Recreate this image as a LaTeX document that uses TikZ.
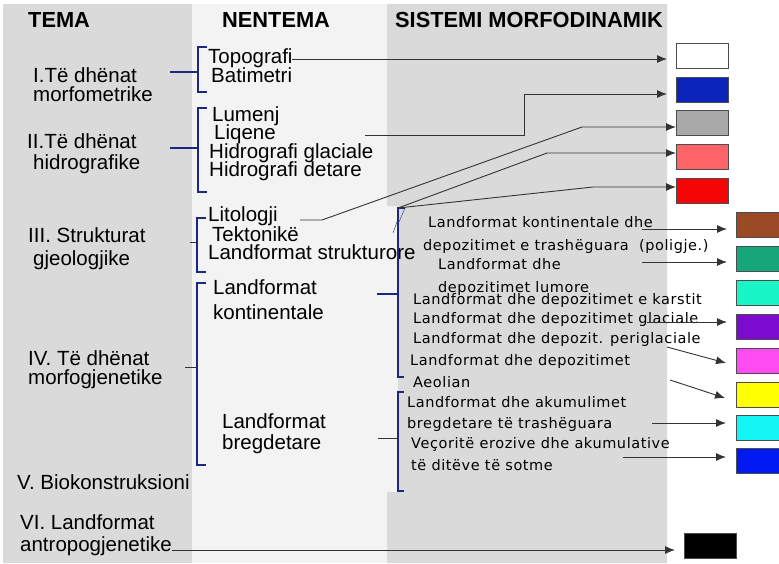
\documentclass[tikz,border=0pt]{standalone}
\usepackage{fontspec}
\setmainfont{Liberation Sans}
\newfontfamily\sisfont[LetterSpace=4]{DejaVu Sans}
\usetikzlibrary{arrows.meta}

\definecolor{temagray}{HTML}{DADADA}
\definecolor{nenlight}{HTML}{F3F3F3}
\definecolor{brnavy}{HTML}{1E2780}

\begin{document}
\begin{tikzpicture}[x=1pt,y=-1pt,
  ttl/.style={font=\bfseries\fontsize{21.8}{22}\selectfont,inner sep=0,anchor=base west},
  tema/.style={font=\fontsize{20.5}{21}\selectfont,inner sep=0,anchor=base west},
  sis/.style={font=\sisfont\fontsize{14.5}{14.5}\selectfont,inner sep=0,anchor=base west},
  kuti/.style={draw=black!70,line width=0.8pt,inner sep=0,minimum width=52pt,minimum height=25pt,anchor=north west},
  shig/.style={draw=black!80,line width=0.9pt,-{Latex[length=10pt,width=8pt]}},
  kllap/.style={draw=brnavy,line width=1.8pt}]
  \useasboundingbox (0,0) rectangle (779,563); \clip (0,0) rectangle (779,563);
  % columns
  \fill[temagray] (3,4) rectangle (192,563);
  \fill[nenlight] (192,4) rectangle (398,563);
  \fill[temagray] (387,4) -- (667,4) -- (667,563) -- (387,563) -- (387,492) -- (398,492) -- (398,206) -- (387,206) -- cycle;
  \node[ttl] (tema) at (28,27) {TEMA};
  \node[ttl] (nentema) at (222,27) {NENTEMA};
  \node[ttl] (sistemi) at (395,27) {SISTEMI MORFODINAMIK};
  % tema
  \node[tema] (t1a) at (33,82) {I.Të dhënat}; \node[tema] (t1b) at (33,101) {morfometrike};
  \node[tema] (t2a) at (27,148) {II.Të dhënat}; \node[tema] (t2b) at (33,169) {hidrografike};
  \node[tema] (t3a) at (28,242) {III. Strukturat}; \node[tema] (t3b) at (33,265) {gjeologjike};
  \node[tema] (t4a) at (28,365) {IV. Të dhënat}; \node[tema] (t4b) at (28,384) {morfogjenetike};
  \node[tema] (t5) at (17,489) {V. Biokonstruksioni};
  \node[tema] (t6a) at (20,529) {VI. Landformat}; \node[tema] (t6b) at (20,551) {antropogjenetike};
  % nentema
  \node[tema] (topo) at (208,63) {Topografi}; \node[tema] (bati) at (211,82) {Batimetri};
  \node[tema] (lum) at (212,121) {Lumenj}; \node[tema] (liq) at (214,139) {Liqene};
  \node[tema] (hgl) at (209,158) {Hidrografi glaciale}; \node[tema] (hdt) at (209,176) {Hidrografi detare};
  \node[tema] (lit) at (208,221) {Litologji}; \node[tema] (tek) at (212,241) {Tektonikë};
  \node[tema] (lst) at (208,259) {Landformat strukturore};
  \node[tema] (lk1) at (213,294) {Landformat}; \node[tema] (lk2) at (213,319) {kontinentale};
  \node[tema] (lb1) at (222,428) {Landformat}; \node[tema] (lb2) at (222,449) {bregdetare};
  % sistemi
  \node[sis] (s1a) at (428,227) {Landformat kontinentale dhe};
  \node[sis] (s1b) at (423,250) {depozitimet e trashëguara\ \ (poligje.)};
  \node[sis] (s2a) at (438,269) {Landformat dhe}; \node[sis] (s2b) at (438,292) {depozitimet lumore};
  \node[sis] (s3) at (413,304) {Landformat dhe depozitimet e karstit};
  \node[sis] (s4) at (413,323) {Landformat dhe depozitimet glaciale};
  \node[sis] (s5) at (413,343) {Landformat dhe depozit. periglaciale};
  \node[sis] (s6a) at (410,365) {Landformat dhe depozitimet}; \node[sis] (s6b) at (413,387) {Aeolian};
  \node[sis] (s7a) at (407,407) {Landformat dhe akumulimet}; \node[sis] (s7b) at (407,428) {bregdetare të trashëguara};
  \node[sis] (s8a) at (411,448) {Veçoritë erozive dhe akumulative}; \node[sis] (s8b) at (411,470) {të ditëve të sotme};
  % boxes
  \node[kuti,fill=white] (bx1) at (676,43) {}; \node[kuti,fill={rgb,255:red,10;green,35;blue,184}] (bx2) at (676,77) {};
  \node[kuti,fill={rgb,255:red,169;green,169;blue,169}] (bx3) at (676,110) {}; \node[kuti,fill={rgb,255:red,255;green,100;blue,104}] (bx4) at (676,144) {};
  \node[kuti,fill={rgb,255:red,245;green,5;blue,5}] (bx5) at (676,178) {};
  \node[kuti,fill={rgb,255:red,155;green,74;blue,38}] (bk1) at (736,212) {}; \node[kuti,fill={rgb,255:red,22;green,166;blue,122}] (bk2) at (736,246) {};
  \node[kuti,fill={rgb,255:red,26;green,245;blue,197}] (bk3) at (736,280) {}; \node[kuti,fill={rgb,255:red,122;green,11;blue,207}] (bk4) at (736,314) {};
  \node[kuti,fill={rgb,255:red,255;green,76;blue,242}] (bk5) at (736,348) {}; \node[kuti,fill={rgb,255:red,255;green,255;blue,0}] (bk6) at (736,382) {};
  \node[kuti,fill={rgb,255:red,20;green,245;blue,245}] (bk7) at (736,415) {}; \node[kuti,fill={rgb,255:red,0;green,25;blue,240}] (bk8) at (736,448) {};
  \node[kuti,fill=black] (bzi) at (684,533) {};
  % brackets
  \draw[kllap] (207,47) -- (198,47) -- (198,92) -- (207,92); \draw[kllap] (170,72) -- (198,72);
  \draw[kllap] (207,108) -- (198,108) -- (198,192) -- (207,192); \draw[kllap] (170,148) -- (198,148);
  \draw[kllap] (206,218) -- (197,218) -- (197,272) -- (206,272); \draw[black!80,thin] (190,242) -- (197,242);
  \draw[kllap] (206,283) -- (197,283) -- (197,465) -- (206,465); \draw[black!80,thin] (185,367) -- (197,367);
  \draw[kllap] (405,208) -- (398,208) -- (398,377) -- (404,377); \draw[kllap] (377,294) -- (398,294);
  \draw[brnavy,thin] (405,208) -- (399,222); \draw[brnavy,thin] (393,233) -- (398,219);
  \draw[brnavy,line width=1.2pt] (404,392) -- (398,392) -- (398,491) -- (404,491); \draw[black!80,thin] (378,438) -- (398,438);
  % connectors
  \coordinate (k1) at (292,59); \coordinate (k2) at (365,135); \coordinate (k3) at (300,220); \coordinate (k4) at (398,208);
  \coordinate (g2) at (524,94); \coordinate (g3) at (582,127); \coordinate (g4) at (547,153); \coordinate (g5) at (593,187);
  \draw[shig,shorten >=9pt] (k1) -- (k1 -| bx1.west);
  \draw[shig,shorten >=9pt] (k2) -- (k2 -| g2) -- (g2) -- (g2 -| bx2.west);
  \draw[shig] (k3) -- (322,220) -- (g3) -- (g3 -| bx3.west);
  \draw[shig] (k4) -- (g4) -- (g4 -| bx4.west);
  \draw[shig] (k4) -- (g5) -- (g5 -| bx5.west);
  \coordinate (m1) at (642,229); \coordinate (m2) at (642,262); \coordinate (m4) at (647,322); \coordinate (m5) at (667,347);
  \coordinate (m6) at (670,380); \coordinate (m7) at (652,423); \coordinate (m8) at (623,457); \coordinate (m9) at (172,550);
  \draw[shig,shorten >=9pt] (m1) -- (m1 -| bk1.west); \draw[shig,shorten >=9pt] (m2) -- (m2 -| bk2.west);
  \draw[shig,shorten >=9pt] (m4) -- (m4 -| bk4.west);
  \draw[shig] (m5) -- (726,363); \draw[shig] (m6) -- (725,398);
  \draw[shig,shorten >=10pt] (m7) -- (m7 -| bk7.west); \draw[shig,shorten >=10pt] (m8) -- (m8 -| bk8.west);
  \draw[shig,shorten >=9pt] (m9) -- (m9 -| bzi.west);
\end{tikzpicture}
\end{document}
